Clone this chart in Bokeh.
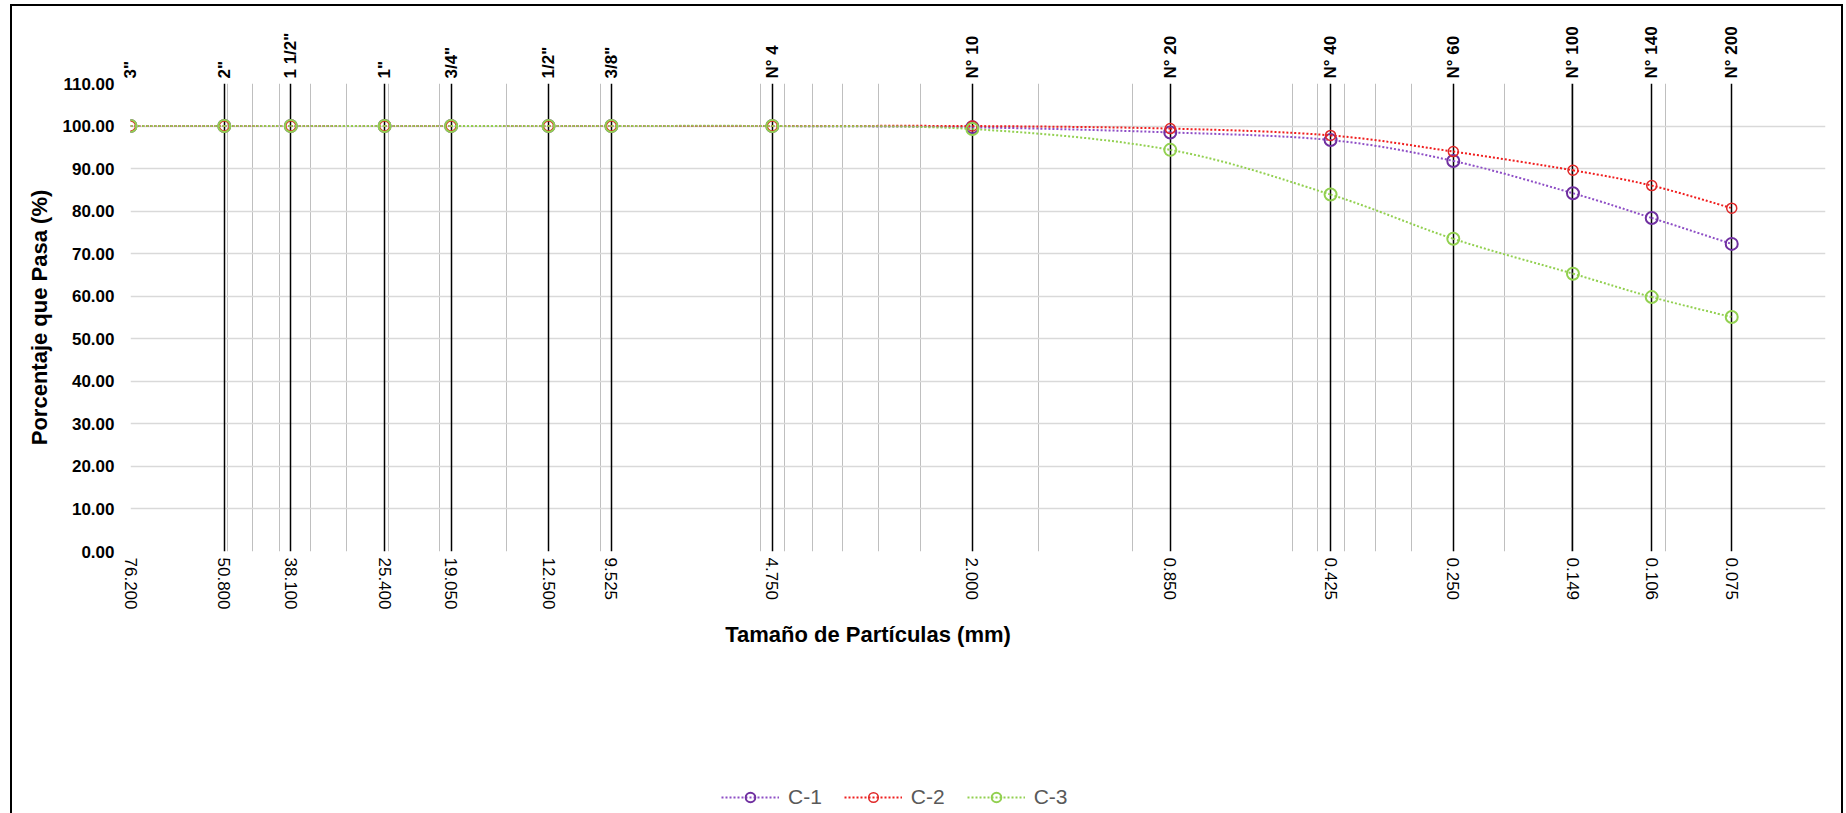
import math
from bokeh.plotting import figure
from bokeh.layouts import column
from bokeh.models import (Range1d, FixedTicker, PrintfTickFormatter, CustomJSTickFormatter,
                          LogAxis, Grid, Legend, LegendItem, Label, InlineStyleSheet)
from bokeh.embed import file_html
from bokeh.resources import INLINE

# ---- data ----
sizes = [76.2, 50.8, 38.1, 25.4, 19.05, 12.5, 9.525, 4.75, 2.0, 0.85, 0.425, 0.25, 0.149, 0.106, 0.075]
sieve_names = ['3"', '2"', '1 1/2"', '1"', '3/4"', '1/2"', '3/8"', 'N° 4', 'N° 10',
               'N° 20', 'N° 40', 'N° 60', 'N° 100', 'N° 140', 'N° 200']
c1 = [100.0, 100.0, 100.0, 100.0, 100.0, 100.0, 100.0, 100.0, 99.7, 98.5, 96.7, 91.8, 84.2, 78.4, 72.3]
c2 = [100.0, 100.0, 100.0, 100.0, 100.0, 100.0, 100.0, 100.0, 100.0, 99.4, 97.8, 94.0, 89.6, 86.0, 80.7]
c3 = [100.0, 100.0, 100.0, 100.0, 100.0, 100.0, 100.0, 100.0, 99.3, 94.4, 83.9, 73.5, 65.3, 59.8, 55.1]
series_names = ["C-1", "C-2", "C-3"]
y_ticks = [0, 10, 20, 30, 40, 50, 60, 70, 80, 90, 100, 110]
minor_grid = [50, 45, 40, 35, 30, 25, 20, 15, 10, 5, 4.5, 4, 3.5, 3, 2.5, 2, 1.5, 1,
              0.5, 0.45, 0.4, 0.35, 0.3, 0.25, 0.2, 0.15, 0.1, 0.05]

FONT = "Liberation Sans"

border_css = InlineStyleSheet(css="""
:host::after {
  content: "";
  position: absolute;
  left: 10px;
  top: 4px;
  width: 1833px;
  height: 809px;
  box-sizing: border-box;
  border-top: 2.5px solid #000;
  border-left: 2.5px solid #000;
  border-right: 2.5px solid #000;
  pointer-events: none;
  z-index: 1000;
}
""")


def smooth_segments(xs, ys):
    """Spreadsheet-style smoothed line: cubic Bezier pieces through the data points
    (control points taken in log-x / linear-y space, i.e. screen-proportional)."""
    lx = [math.log10(v) for v in xs]
    n = len(xs)
    seg = dict(x0=[], y0=[], x1=[], y1=[], cx0=[], cy0=[], cx1=[], cy1=[])
    for i in range(n - 1):
        a = i - 1 if i > 0 else i
        d = i + 2 if i + 2 < n else i + 1
        seg["x0"].append(xs[i]); seg["y0"].append(ys[i])
        seg["x1"].append(xs[i + 1]); seg["y1"].append(ys[i + 1])
        seg["cx0"].append(10 ** (lx[i] + (lx[i + 1] - lx[a]) / 6.0))
        seg["cy0"].append(ys[i] + (ys[i + 1] - ys[a]) / 6.0)
        seg["cx1"].append(10 ** (lx[i + 1] - (lx[d] - lx[i]) / 6.0))
        seg["cy1"].append(ys[i + 1] - (ys[d] - ys[i]) / 6.0)
    return seg


# ---------------- main chart ----------------
p = figure(width=1846, height=616, x_axis_type="log",
           x_range=Range1d(76.2, 0.05), y_range=Range1d(0, 110),
           output_backend="svg", toolbar_location=None,
           min_border_left=130, min_border_right=21, min_border_top=83, min_border_bottom=65,
           background_fill_color="white", border_fill_color="white")
p.outline_line_color = None

# bottom axis
xa = p.xaxis[0]
xa.ticker = FixedTicker(ticks=sizes)
xa.formatter = PrintfTickFormatter(format="%.3f")
xa.major_label_orientation = "vertical"
xa.major_label_text_font = FONT
xa.major_label_text_font_size = "17px"
xa.major_label_text_color = "black"
xa.major_label_standoff = 6
xa.major_tick_in = 0
xa.major_tick_out = 0
xa.minor_tick_in = 0
xa.minor_tick_out = 0
xa.axis_line_color = None

# top axis with sieve names
top = LogAxis(ticker=FixedTicker(ticks=sizes),
              formatter=CustomJSTickFormatter(args=dict(vals=sizes, names=sieve_names), code="""
const i = vals.findIndex(v => Math.abs(Math.log(v) - Math.log(tick)) < 1e-6);
return i >= 0 ? names[i] : "";
"""))
top.major_label_orientation = "vertical"
top.major_label_text_font = FONT
top.major_label_text_font_size = "17px"
top.major_label_text_font_style = "bold"
top.major_label_text_color = "black"
top.major_label_standoff = 5
top.major_tick_in = 0
top.major_tick_out = 0
top.minor_tick_in = 0
top.minor_tick_out = 0
top.axis_line_color = None
p.add_layout(top, "above")

# left axis
ya = p.yaxis[0]
ya.ticker = FixedTicker(ticks=y_ticks)
ya.formatter = PrintfTickFormatter(format="%.2f")
ya.major_label_text_font = FONT
ya.major_label_text_font_size = "17px"
ya.major_label_text_font_style = "bold"
ya.major_label_text_color = "black"
ya.major_label_standoff = 16
ya.major_tick_in = 0
ya.major_tick_out = 0
ya.minor_tick_in = 0
ya.minor_tick_out = 0
ya.axis_line_color = None
ya.axis_label = "Porcentaje que Pasa (%)"
ya.axis_label_text_font = FONT
ya.axis_label_text_font_size = "22px"
ya.axis_label_text_font_style = "bold"
ya.axis_label_text_color = "black"
ya.axis_label_standoff = 8

# grids
p.ygrid.ticker = FixedTicker(ticks=y_ticks)
p.ygrid.grid_line_color = "#D9D9D9"
p.ygrid.grid_line_width = 1.5
p.xgrid.ticker = FixedTicker(ticks=minor_grid)
p.xgrid.grid_line_color = "#BFBFBF"
p.xgrid.grid_line_width = 1
sieve_grid = Grid(dimension=0, ticker=FixedTicker(ticks=sizes),
                  grid_line_color="black", grid_line_width=1.5)
p.add_layout(sieve_grid)

# series
styles = [
    dict(data=c1, line="#8E4EC6", mark="#7030A0", size=12, mw=2),
    dict(data=c2, line="#F01E1E", mark="#E02828", size=10, mw=1.5),
    dict(data=c3, line="#92D050", mark="#92D050", size=12, mw=2),
]
for st in styles:
    p.bezier(line_color=st["line"], line_width=2, line_dash="2 2",
             **smooth_segments(sizes, st["data"]))
    p.scatter(sizes, st["data"], marker="circle", size=st["size"],
              line_color=st["mark"], line_width=st["mw"], fill_color=None)

# ---------------- lower strip: x title + legend ----------------
p2 = figure(width=1846, height=197, x_range=Range1d(1000, 2846), y_range=Range1d(0, 197),
            output_backend="svg", toolbar_location=None,
            x_axis_location=None, y_axis_location=None,
            min_border_left=0, min_border_right=0, min_border_top=0, min_border_bottom=0,
            background_fill_color="white", border_fill_color="white")
p2.outline_line_color = None
p2.xgrid.visible = False
p2.ygrid.visible = False

items = []
for name, st in zip(series_names, styles):
    # same series, outside this strip's view: used only for the legend samples
    rl = p2.line(sizes, st["data"], line_color=st["line"], line_width=2, line_dash="2 2")
    rs = p2.scatter(sizes, st["data"], marker="circle", size=st["size"] - 2,
                    line_color=st["mark"], line_width=st["mw"], fill_color=None)
    items.append(LegendItem(label=name, renderers=[rl, rs]))

xt = Label(x=737.5, y=179, x_units="screen", y_units="screen",
           text="Tamaño de Partículas (mm)", text_align="center", text_baseline="alphabetic",
           text_font=FONT, text_font_size="22px", text_font_style="bold", text_color="black")
p2.add_layout(xt)

legend = Legend(items=items, orientation="horizontal", location=(591, 4),
                glyph_width=58, glyph_height=24, label_height=24, label_standoff=9,
                spacing=22, padding=0, margin=0, border_line_color=None,
                background_fill_alpha=0, label_text_font=FONT,
                label_text_font_size="21px", label_text_color="#595959")
p2.add_layout(legend)

layout = column(p, p2, spacing=0)
layout.stylesheets = [border_css]

open("out.html", "w").write(file_html(layout, INLINE))
